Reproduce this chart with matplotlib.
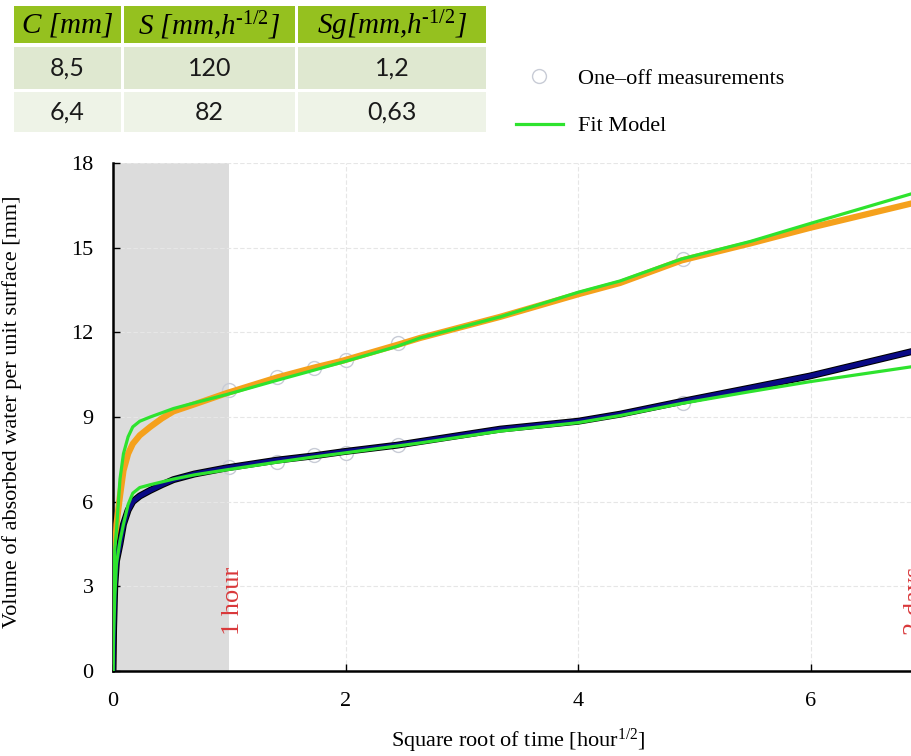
import numpy as np
import matplotlib.pyplot as plt
from matplotlib.patches import Rectangle
from matplotlib.lines import Line2D

plt.rcParams['font.family'] = 'Liberation Serif'
plt.rcParams['mathtext.fontset'] = 'custom'
plt.rcParams['mathtext.rm'] = 'Liberation Serif'
plt.rcParams['mathtext.it'] = 'Liberation Serif:italic'

# table at the top
table_header = ['C [mm]', 'S [mm,h$^{\\mathit{\u20101/2}}$]', 'Sg[mm,h$^{\\mathit{\u20101/2}}$]']
table_rows = [['8,5', '120', '1,2'],
              ['6,4', '82', '0,63']]

# curves
t_curve = [0, 0.005, 0.015, 0.03, 0.06, 0.09, 0.13, 0.17, 0.23, 0.32, 0.42, 0.52, 0.7,
           0.98, 1.41, 1.72, 1.98, 2.44, 2.64, 3.33, 4.0, 4.36, 4.89, 5.48, 5.99, 6.9]
w_high = [0, 2.0, 3.9, 5.2, 6.2, 7.1, 7.7, 8.05, 8.35, 8.65, 8.95, 9.2, 9.45,
          9.85, 10.4, 10.74, 11.0, 11.55, 11.8, 12.55, 13.35, 13.75, 14.55, 15.15, 15.7, 16.6]
fit_high = [0, 2.5, 4.3, 5.0, 6.8, 7.7, 8.3, 8.65, 8.85, 9.0, 9.15, 9.3, 9.5,
            9.8, 10.3, 10.65, 10.95, 11.5, 11.8, 12.55, 13.42, 13.82, 14.6, 15.22, 15.85, 16.95]
w_low = [0, 1.5, 3.0, 3.9, 4.5, 5.2, 5.7, 6.0, 6.2, 6.4, 6.6, 6.78, 6.98,
         7.2, 7.47, 7.62, 7.77, 8.0, 8.13, 8.57, 8.85, 9.1, 9.55, 10.03, 10.45, 11.35]
fit_low = [0, 1.2, 2.6, 3.8, 4.6, 5.2, 5.9, 6.3, 6.5, 6.6, 6.7, 6.8, 6.95,
           7.13, 7.4, 7.58, 7.72, 7.97, 8.08, 8.5, 8.8, 9.05, 9.48, 9.9, 10.25, 10.8]

# one-off measurements
t_meas = [1.0, 1.41, 1.73, 2.0, 2.45, 4.9]
m_high = [9.96, 10.43, 10.74, 11.03, 11.63, 14.6]
m_low = [7.23, 7.41, 7.66, 7.73, 8.01, 9.5]

W, H = 912, 756
fig = plt.figure(figsize=(W / 100, H / 100), dpi=100)

# ---- table
axt = fig.add_axes([0, 1 - 140 / H, 1, 140 / H])
axt.set_xlim(0, W)
axt.set_ylim(140, 0)
axt.axis('off')
cols = [(14, 121), (124, 295), (298, 486)]
rows = [(6, 43), (47, 89), (92, 132)]
row_col = ['#95c11f', '#dfe8d0', '#eef3e7']
for r, (y0, y1) in enumerate(rows):
    for c, (x0, x1) in enumerate(cols):
        axt.add_patch(Rectangle((x0, y0), x1 - x0, y1 - y0, color=row_col[r], lw=0))
        xc, yc = (x0 + x1) / 2, (y0 + y1) / 2
        if r == 0:
            axt.text(xc, yc + 1, table_header[c], ha='center', va='center',
                     fontsize=21, style='italic')
        else:
            axt.text(xc, yc, table_rows[r - 1][c], ha='center', va='center',
                     fontsize=18, family='Lato', color='#1a1a1a')

# ---- main plot
x_px = 116.3
ax = fig.add_axes([113 / W, (H - 671) / H, 7.0 * x_px / W, 508 / H])
ax.axvspan(0, 1, color='#dcdcdc', lw=0, zorder=0)
ax.plot(t_meas, m_high, 'o', ms=10, mfc='none', mec='#c8ccd6', mew=1, zorder=2)
ax.plot(t_meas, m_low, 'o', ms=10, mfc='none', mec='#c8ccd6', mew=1, zorder=2)
ax.plot(t_curve, w_high, color='#f5a11c', lw=4.5, solid_capstyle='round', zorder=3)
ax.plot(t_curve, w_low, color='#000000', lw=5, zorder=3)
ax.plot(t_curve, w_low, color='#0a0a85', lw=3.5, zorder=3)
ax.plot(t_curve, fit_high, color='#2ee32e', lw=2.3, zorder=4)
ax.plot(t_curve, fit_low, color='#2ee32e', lw=2.3, zorder=4)

ax.text(1.03, 2.5, '1 hour', rotation=90, ha='center', va='center',
        color='#d9383a', fontsize=19)
ax.text(6.9, 2.5, '2 days', rotation=90, ha='center', va='center',
        color='#d9383a', fontsize=19)

ax.set_xlim(0, 7.0)
ax.set_ylim(0, 18)
ax.set_xticks([0, 2, 4, 6])
ax.set_yticks(np.arange(0, 19, 3))
ax.grid(True, color='#e6e6e6', lw=0.8, ls=(0, (4, 2)))
ax.set_axisbelow(True)
for s in ['top', 'right']:
    ax.spines[s].set_visible(False)
for s in ['left', 'bottom']:
    ax.spines[s].set_linewidth(1.8)
ax.tick_params(direction='in', length=5, width=1, labelsize=16, pad=15)
ax.tick_params(axis='y', pad=14)

ax.set_ylabel('Volume of absorbed water per unit surface [mm]', fontsize=16)
ax.yaxis.set_label_coords(-0.112, 0.51)
ax.set_xlabel(r'Square root of time [hour$^{1/2}$]', fontsize=16)
ax.xaxis.set_label_coords(0.4975, -0.11)

# ---- legend
handles = [Line2D([], [], ls='none', marker='o', ms=10, mfc='none', mec='#c8ccd6', mew=1),
           Line2D([], [], color='#2ee32e', lw=2.3)]
fig.legend(handles, ['One\u2013off measurements', 'Fit Model'], loc='upper left',
           bbox_to_anchor=(516 / W, 1 - 68 / H), frameon=False, fontsize=16,
           handlelength=2.1, handletextpad=0.7, labelspacing=1.23, borderpad=0,
           borderaxespad=0)

fig.savefig('out.png', dpi=100)
